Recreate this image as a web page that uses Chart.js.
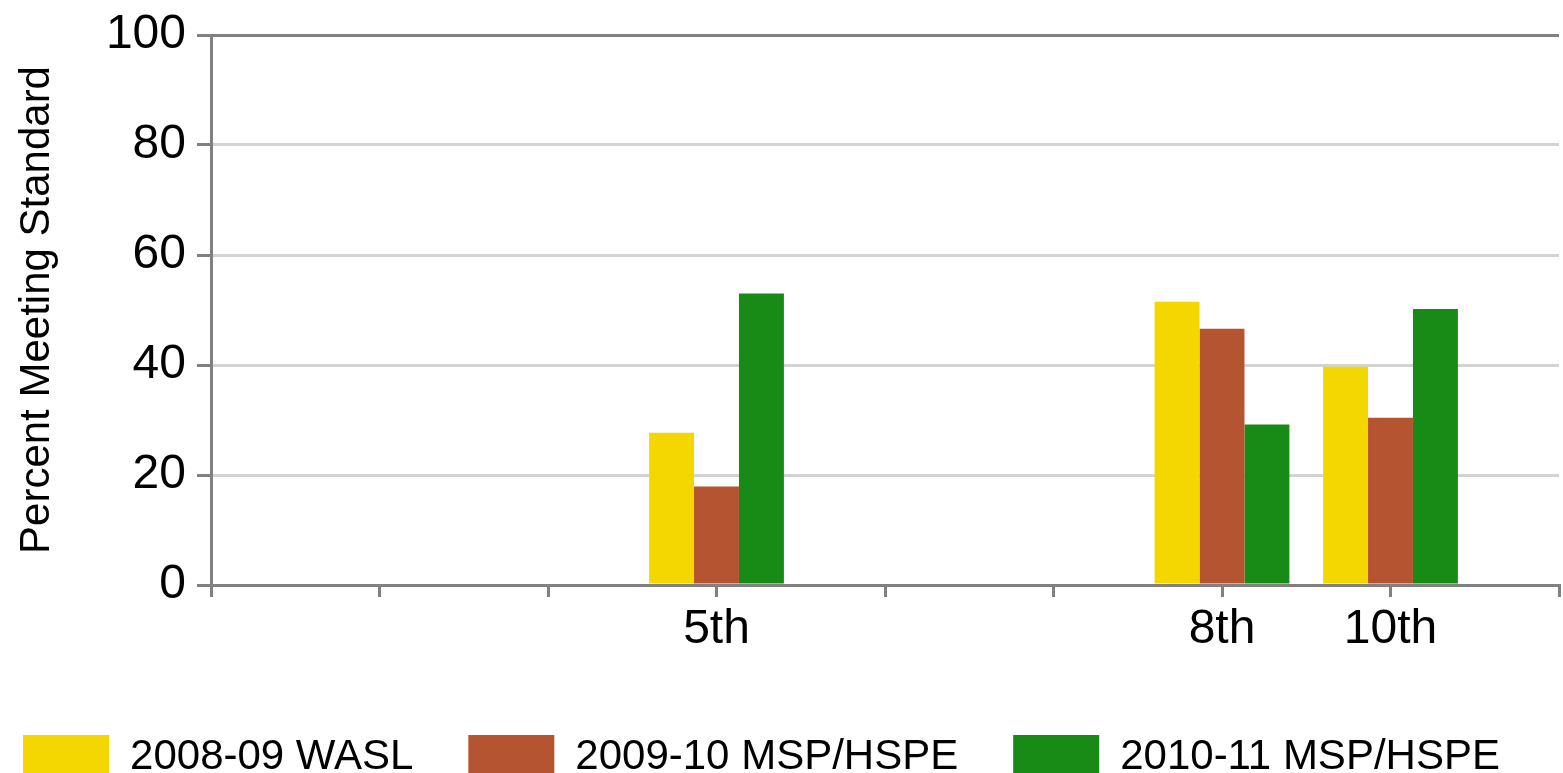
<!DOCTYPE html>
<html>
<head>
<meta charset="utf-8">
<title>Percent Meeting Standard</title>
<script src="https://cdn.jsdelivr.net/npm/chart.js@4.4.1/dist/chart.umd.min.js"></script>
<style>
  html, body { margin: 0; padding: 0; background: #fff; overflow: hidden; }
  #wrap { position: relative; width: 1563px; height: 773px; overflow: hidden; }
  /* canvas is a bit wider than the page so the legend sits where the original has it */
  #scoreChart { position: absolute; left: -40px; top: 0; }
</style>
</head>
<body>
<div id="wrap"><canvas id="scoreChart" width="1603" height="790"></canvas></div>
<script>
// Data
const grades = ['', '', '', '5th', '', '', '8th', '10th', ''];
const wasl0809 = [null, null, null, 27.7, null, null, 51.5, 39.7, null];
const msp0910 = [null, null, null, 17.9, null, null, 46.6, 30.4, null];
const msp1011 = [null, null, null, 53.0, null, null, 29.2, 50.2, null];
const yTicks = [0, 20, 40, 60, 80, 100];

const axisGray = '#808080';
const gridGray = '#d3d3d3';
const font = 'Liberation Sans';

try {
  const ctx = document.getElementById('scoreChart').getContext('2d');

  new Chart(ctx, {
    type: 'bar',
    data: {
      labels: grades,
      datasets: [
        { label: '2008-09 WASL', data: wasl0809, backgroundColor: 'rgb(245,215,0)' },
        { label: '2009-10 MSP/HSPE', data: msp0910, backgroundColor: 'rgb(180,84,48)' },
        { label: '2010-11 MSP/HSPE', data: msp1011, backgroundColor: 'rgb(24,138,22)' }
      ]
    },
    options: {
      responsive: false,
      animation: false,
      devicePixelRatio: 1,
      layout: { padding: { top: 35, left: 0, right: 0, bottom: 0 } },
      datasets: {
        bar: { categoryPercentage: 0.8, barPercentage: 1, borderWidth: 0 }
      },
      plugins: {
        tooltip: { enabled: false },
        legend: {
          position: 'bottom',
          labels: {
            color: '#000',
            font: { family: font, size: 42 },
            boxWidth: 86,
            boxHeight: 45,
            padding: 55
          }
        }
      },
      scales: {
        x: {
          offset: false,
          grid: {
            offset: false,
            drawOnChartArea: false,
            tickColor: axisGray,
            tickLength: 12,
            lineWidth: 3
          },
          border: { color: axisGray, width: 3 },
          ticks: {
            autoSkip: false,
            maxRotation: 0,
            padding: 4,
            color: '#000',
            font: { family: font, size: 48 }
          },
          afterFit: scale => { scale.height = 95; }
        },
        y: {
          min: 0,
          max: 100,
          afterBuildTicks: scale => { scale.ticks = yTicks.map(v => ({ value: v })); },
          grid: {
            color: c => (c.tick && c.tick.value === 100) ? axisGray : gridGray,
            tickColor: axisGray,
            tickLength: 14,
            lineWidth: 3
          },
          border: { color: axisGray, width: 3 },
          ticks: {
            padding: 11,
            color: '#000',
            font: { family: font, size: 48, lineHeight: 1 }
          },
          title: {
            display: true,
            text: 'Percent Meeting Standard',
            color: '#000',
            font: { family: font, size: 42 },
            padding: { top: 52, bottom: 0 }
          },
          afterFit: scale => { scale.width = 251; }
        }
      }
    }
  });
} catch (e) {
  console.log(e);
}
</script>
</body>
</html>
